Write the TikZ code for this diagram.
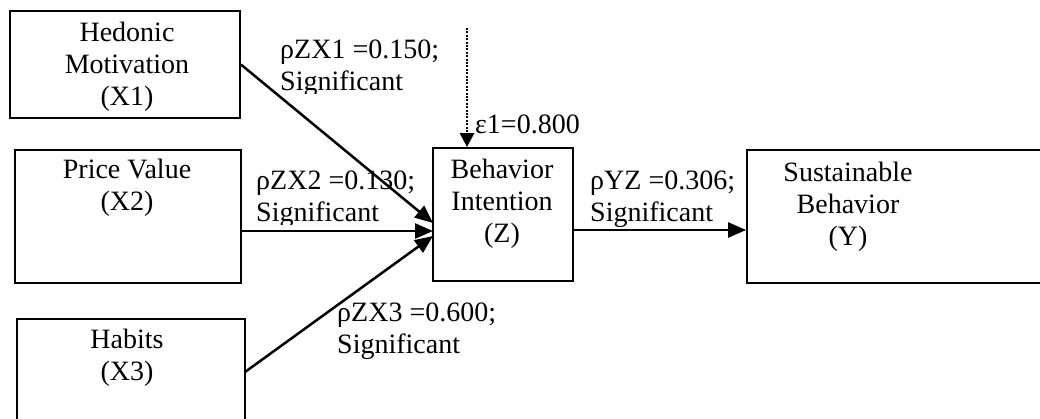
\documentclass[tikz,border=0pt]{standalone}
\usepackage{fontspec}
\setmainfont{Liberation Serif}
\usetikzlibrary{arrows.meta}
\begin{document}
\begin{tikzpicture}[x=1pt,y=-1pt,
  every node/.style={font=\fontsize{28}{32}\selectfont},
  box/.style={draw=black,line width=1.8pt,rectangle,inner sep=0pt},
  txt/.style={inner sep=0pt,align=center,anchor=north},
  lbl/.style={inner sep=0pt,align=left,anchor=north west},
  path/.style={line width=2.5pt,-{Triangle[length=18pt,width=15pt]}},
  err/.style={line width=2.6pt,dash pattern=on 2pt off 1.4pt,
    -{Triangle[length=14pt,width=14pt]}}]
\useasboundingbox (0,0) rectangle (1040,419);
\clip (0,0) rectangle (1040,419);

% construct boxes
\node[box,minimum width=230pt,minimum height=107pt] (x1) at (125,64.5) {};
\node[box,minimum width=226pt,minimum height=133pt] (x2) at (128,216.5) {};
\node[box,minimum width=228pt,minimum height=133pt] (x3) at (131,385.5) {};
\node[box,minimum width=140pt,minimum height=133pt] (z) at (503,214.5) {};
\node[box,minimum width=333pt,minimum height=133pt] (y) at (913.5,216.5) {};

% box texts
\node[txt] (tx1) at (127,22) {Hedonic\\Motivation\\(X1)};
\node[txt] (tx2) at (127,159) {Price Value\\(X2)};
\node[txt] (tx3) at (127,329) {Habits\\(X3)};
\node[txt] (tz) at (502,159) {Behavior\\Intention\\(Z)};
\node[txt] (ty) at (848,162) {Sustainable\\Behavior\\(Y)};

% entry and exit points on the boxes
\coordinate (in1) at (433,223);
\coordinate (in2) at (433,231);
\coordinate (in3) at (433,236);
\coordinate (out3) at (245,372);
\coordinate (zout) at (573,230);
\coordinate (etop) at (467,28);

% paths
\draw[path] (x1.east) -- (in1);
\draw[path] (x2.east |- in2) -- (in2);
\draw[path] (out3) -- (in3);
\draw[path] (zout) -- (y.west |- zout);
\draw[err] (etop) -- (etop |- z.north);

% coefficients (the first two sit in text frames that cut the descenders)
\begin{scope}
  \clip (270,30) rectangle (440,94);
  \node[lbl] (l1) at (280,40) {ρZX1 =0.150;\\Significant};
\end{scope}
\begin{scope}
  \clip (250,160) rectangle (430,225);
  \node[lbl] (l2) at (256,171) {ρZX2 =0.130;\\Significant};
\end{scope}
\node[lbl] (l3) at (337,303) {ρZX3 =0.600;\\Significant};
\node[lbl] (l4) at (590,171) {ρYZ =0.306;\\Significant};
\node[lbl] (l5) at (475,115) {ε1=0.800};
\end{tikzpicture}
\end{document}
